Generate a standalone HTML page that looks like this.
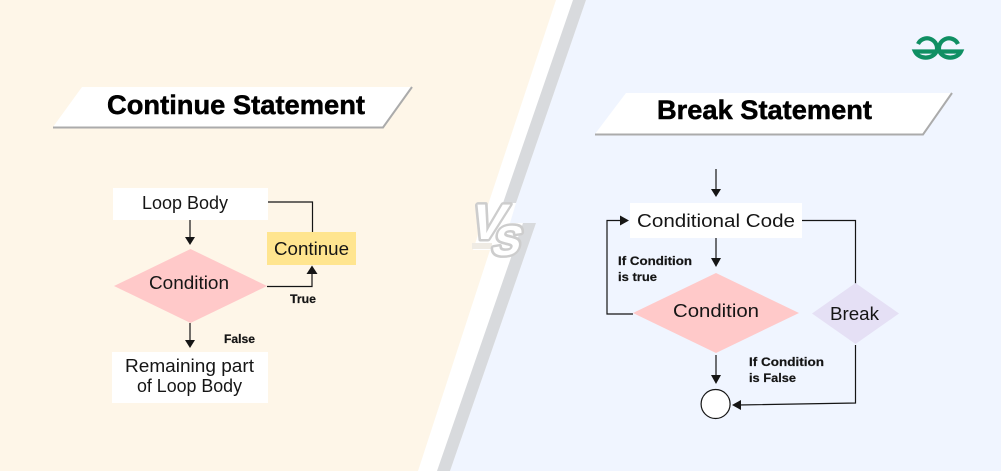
<!DOCTYPE html>
<html><head><meta charset="utf-8"><style>
html,body{margin:0;padding:0;background:#fff}
svg{display:block;filter:blur(.35px)}
text{font-family:"Liberation Sans",sans-serif;fill:#151515}
.h{font-size:27px;font-weight:700;fill:#000;stroke:#000;stroke-width:.5}
.n{font-size:18px}
.b{font-size:12px;font-weight:700;stroke:#151515;stroke-width:.2}
.l{stroke:#151515;stroke-width:1.2;fill:none}
.a{fill:#151515}
.vs{font-weight:700;fill:#fff;stroke:#cdcdcd;stroke-width:5;paint-order:stroke;stroke-linejoin:round}
</style></head><body>
<svg width="1001" height="471" viewBox="0 0 1001 471" xmlns="http://www.w3.org/2000/svg">
<rect width="1001" height="471" fill="#fff"/>
<polygon points="0,0 556,0 473,250 490,250 418,471 0,471" fill="#FEF6E8"/>
<polygon points="586,0 1001,0 1001,471 450,471 536,223 510,223 516,203" fill="#F0F5FF"/>
<polygon points="573,0 586,0 516,203 503,203" fill="#D8DADD"/>
<polygon points="523,223 536,223 450,471 437,471" fill="#D8DADD"/>
<rect x="472" y="243" width="20" height="6" fill="#EFEBE4"/>

<text class="vs" transform="translate(468,239) skewX(-15)" font-size="50">V</text>
<text class="vs" transform="translate(490,255) skewX(-15)" font-size="42">S</text>

<!-- Logo -->
<g fill="none" stroke="#0F8F63" stroke-width="4.2">
<path d="M918,44 A10,10 0 0 1 936.500,51.500 A11.500,9.500 0 0 1 915,51.500 L936.500,51.500"/>
<path d="M958,44 A10,10 0 0 0 939.500,51.500 A11.500,9.500 0 0 0 961,51.500 L939.500,51.500"/>
</g>

<!-- Left banner -->
<polygon points="82,87 412,87 383,127 53,127" fill="#fff"/>
<polyline points="53,127.500 383,127.500 412,87" fill="none" stroke="#ABABAB" stroke-width="2"/>
<text class="h" x="107" y="114" textLength="258" lengthAdjust="spacingAndGlyphs">Continue Statement</text>

<!-- Right banner -->
<polygon points="626,93 952,93 923,134 595,134" fill="#fff"/>
<polyline points="595,134.500 923,134.500 952,93" fill="none" stroke="#ABABAB" stroke-width="2"/>
<text class="h" x="657" y="119" textLength="215" lengthAdjust="spacingAndGlyphs">Break Statement</text>

<!-- Left flowchart -->
<rect x="113" y="188" width="155" height="32" fill="#fff"/>
<text class="n" x="142" y="209" textLength="86" lengthAdjust="spacingAndGlyphs">Loop Body</text>
<path class="l" d="M190,220V239"/><polygon class="a" points="185,237 195,237 190,245"/>
<polygon points="114,286 190.500,249 267,286 190.500,323" fill="#FFC9C9"/>
<text class="n" x="149" y="289" textLength="80" lengthAdjust="spacingAndGlyphs">Condition</text>
<path class="l" d="M268,202H312.500V232"/>
<rect x="267" y="232" width="89" height="33" fill="#FFE58F"/>
<text class="n" x="274" y="255" textLength="75" lengthAdjust="spacingAndGlyphs">Continue</text>
<path class="l" d="M267,286.500H312V272"/><polygon class="a" points="306.500,274 317.500,274 312,265.500"/>
<text class="b" x="290" y="303" textLength="26" lengthAdjust="spacingAndGlyphs">True</text>
<text class="b" x="224" y="343" textLength="31" lengthAdjust="spacingAndGlyphs">False</text>
<path class="l" d="M190,323V342"/><polygon class="a" points="185,340 195,340 190,348"/>
<rect x="112" y="352" width="156" height="51" fill="#fff"/>
<text class="n" x="125" y="372" textLength="129" lengthAdjust="spacingAndGlyphs">Remaining part</text>
<text class="n" x="137" y="392" textLength="105" lengthAdjust="spacingAndGlyphs">of Loop Body</text>

<!-- Right flowchart -->
<path class="l" d="M716,169V191"/><polygon class="a" points="711,189 721,189 716,197"/>
<rect x="630" y="203" width="172" height="35" fill="#fff"/>
<text class="n" x="637" y="227" textLength="158" lengthAdjust="spacingAndGlyphs">Conditional Code</text>
<path class="l" d="M716,238V260"/><polygon class="a" points="711,258 721,258 716,267"/>
<polygon points="633,313 716,273 799,313 716,353" fill="#FFC9C9"/>
<text class="n" x="673" y="317" textLength="86" lengthAdjust="spacingAndGlyphs">Condition</text>
<path class="l" d="M633,314H607V220.500H622"/><polygon class="a" points="620,215.500 620,225.500 629,220.500"/>
<text class="b" x="618" y="265" textLength="74" lengthAdjust="spacingAndGlyphs">If Condition</text>
<text class="b" x="618" y="281" textLength="39" lengthAdjust="spacingAndGlyphs">is true</text>
<path class="l" d="M802,220.500H855.500V284"/>
<polygon points="812,313.500 855.500,283 899,313.500 855.500,344" fill="#E5E0F5"/>
<text class="n" x="830" y="320" textLength="49" lengthAdjust="spacingAndGlyphs">Break</text>
<path class="l" d="M855.500,345V403L738,405"/><polygon class="a" points="741,400 741,410 732,405"/>
<path class="l" d="M716,355V377"/><polygon class="a" points="711,375 721,375 716,384"/>
<circle cx="715.600" cy="404" r="14.500" fill="#fff" stroke="#151515" stroke-width="1.200"/>
<text class="b" x="749" y="366" textLength="75" lengthAdjust="spacingAndGlyphs">If Condition</text>
<text class="b" x="749" y="382" textLength="47" lengthAdjust="spacingAndGlyphs">is False</text>
</svg>
</body></html>
